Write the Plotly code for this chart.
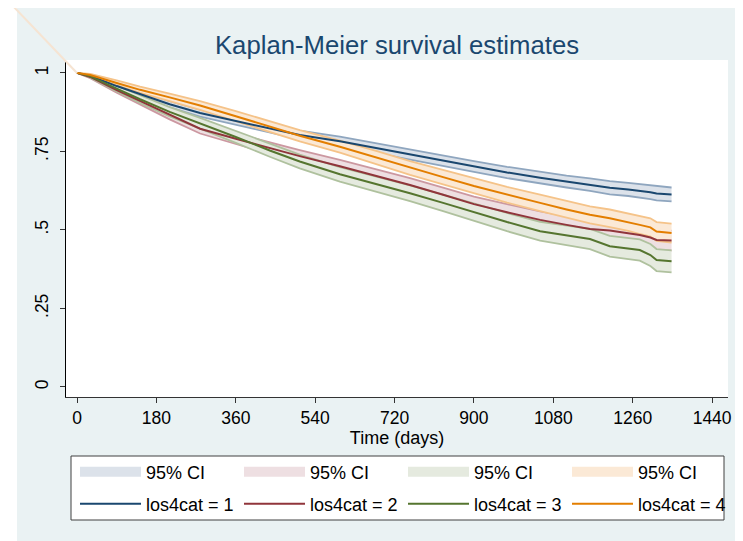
import plotly.graph_objects as go

# ---------------- data ----------------
time_days = [0, 30, 90, 143, 210, 279, 360, 437, 505, 596, 680, 755, 830, 900,
             975, 1050, 1110, 1163, 1208, 1250, 1276, 1300, 1314, 1348]

surv_1 = [1.000, 0.990, 0.958, 0.932, 0.900, 0.872, 0.847, 0.822, 0.802, 0.782, 0.760, 0.740,
          0.720, 0.702, 0.683, 0.666, 0.654, 0.644, 0.634, 0.629, 0.625, 0.620, 0.616, 0.613]
lo_1 = [1.000, 0.987, 0.952, 0.924, 0.890, 0.861, 0.835, 0.809, 0.788, 0.767, 0.745, 0.724,
        0.704, 0.685, 0.665, 0.647, 0.635, 0.624, 0.613, 0.608, 0.604, 0.598, 0.594, 0.591]
hi_1 = [1.000, 0.993, 0.964, 0.940, 0.910, 0.883, 0.859, 0.835, 0.816, 0.797, 0.775, 0.756,
        0.736, 0.719, 0.701, 0.685, 0.673, 0.664, 0.655, 0.650, 0.646, 0.642, 0.638, 0.635]

surv_2 = [1.000, 0.987, 0.945, 0.910, 0.865, 0.822, 0.790, 0.760, 0.735, 0.703, 0.672, 0.643,
          0.612, 0.582, 0.556, 0.532, 0.516, 0.503, 0.498, 0.490, 0.484, 0.476, 0.468, 0.466]
lo_2 = [1.000, 0.983, 0.937, 0.899, 0.852, 0.807, 0.773, 0.742, 0.716, 0.683, 0.651, 0.621,
        0.589, 0.558, 0.530, 0.505, 0.488, 0.474, 0.468, 0.460, 0.453, 0.445, 0.436, 0.434]
hi_2 = [1.000, 0.991, 0.953, 0.921, 0.878, 0.837, 0.807, 0.778, 0.754, 0.723, 0.693, 0.665,
        0.635, 0.606, 0.582, 0.559, 0.544, 0.532, 0.528, 0.520, 0.515, 0.507, 0.500, 0.498]

surv_3 = [1.000, 0.989, 0.950, 0.916, 0.876, 0.840, 0.796, 0.753, 0.718, 0.677, 0.646, 0.617,
          0.586, 0.556, 0.525, 0.496, 0.482, 0.471, 0.448, 0.440, 0.436, 0.420, 0.404, 0.400]
lo_3 = [1.000, 0.985, 0.941, 0.904, 0.861, 0.823, 0.777, 0.733, 0.696, 0.654, 0.622, 0.592,
        0.560, 0.529, 0.496, 0.466, 0.451, 0.439, 0.415, 0.406, 0.402, 0.385, 0.369, 0.365]
hi_3 = [1.000, 0.993, 0.959, 0.928, 0.891, 0.857, 0.815, 0.773, 0.740, 0.700, 0.670, 0.642,
        0.612, 0.583, 0.554, 0.526, 0.513, 0.503, 0.481, 0.474, 0.470, 0.455, 0.439, 0.435]

surv_4 = [1.000, 0.993, 0.968, 0.946, 0.922, 0.896, 0.862, 0.828, 0.800, 0.765, 0.730, 0.697,
          0.668, 0.640, 0.612, 0.586, 0.565, 0.548, 0.537, 0.525, 0.516, 0.508, 0.495, 0.490]
lo_4 = [1.000, 0.989, 0.960, 0.936, 0.910, 0.882, 0.846, 0.811, 0.782, 0.746, 0.709, 0.675,
        0.645, 0.616, 0.587, 0.560, 0.538, 0.521, 0.509, 0.497, 0.487, 0.479, 0.465, 0.460]
hi_4 = [1.000, 0.997, 0.976, 0.956, 0.934, 0.910, 0.878, 0.845, 0.818, 0.784, 0.751, 0.719,
        0.691, 0.664, 0.637, 0.612, 0.592, 0.575, 0.565, 0.553, 0.545, 0.537, 0.525, 0.520]

group_names = ["los4cat = 1", "los4cat = 2", "los4cat = 3", "los4cat = 4"]
ci_name = "95% CI"
x_ticks = [0, 180, 360, 540, 720, 900, 1080, 1260, 1440]
y_ticks = [0, 0.25, 0.5, 0.75, 1]
y_tick_text = ["0", ".25", ".5", ".75", "1"]
grid_ticks = [0.25, 0.5, 0.75, 1]

# ---------------- styles ----------------
line_colors = ["#1a476f", "#90353b", "#55752f", "#e37e00"]
fill_colors = ["#dce2ea", "#eedfe2", "#e5eadf", "#fbe9d6"]
edge_colors = ["#8fa6bf", "#cc98a1", "#afc19e", "#f5c389"]
FONT = "Liberation Sans, Arial, sans-serif"
BG = "#eaf2f3"

W, H = 743, 541
ML, MR, MT, MB = 58, 23, 52, 152
PW, PH = W - ML - MR, H - MT - MB


def px_x(p):  # figure pixel -> paper x
    return (p - ML) / PW


def px_y(p):  # figure pixel -> paper y
    return (H - MB - p) / PH


survs = [surv_1, surv_2, surv_3, surv_4]
los = [lo_1, lo_2, lo_3, lo_4]
his = [hi_1, hi_2, hi_3, hi_4]

fig = go.Figure()

# confidence bands first
for g in range(4):
    fig.add_trace(go.Scatter(
        x=time_days + time_days[::-1], y=his[g] + los[g][::-1],
        fill="toself", fillcolor=fill_colors[g], mode="lines",
        line=dict(width=0, color=fill_colors[g]),
        legendgroup=f"ci{g}", showlegend=False, hoverinfo="skip"))
    for bound in (his[g], los[g]):
        fig.add_trace(go.Scatter(
            x=time_days, y=bound, mode="lines",
            line=dict(color=edge_colors[g], width=1.8),
            legendgroup=f"ci{g}", showlegend=False, hoverinfo="skip"))
    # legend swatch for the band (no data points)
    fig.add_trace(go.Scatter(
        x=[None], y=[None], mode="lines",
        line=dict(color=fill_colors[g], width=20),
        name=ci_name, legendgroup=f"ci{g}", legend="legend", hoverinfo="skip"))

# survival curves on top
for g in range(4):
    fig.add_trace(go.Scatter(
        x=time_days, y=survs[g], mode="lines",
        line=dict(color=line_colors[g], width=2),
        name=group_names[g], legend="legend2"))

legend_common = dict(orientation="h", xref="container", yref="container",
                     xanchor="left", yanchor="middle", bgcolor="rgba(0,0,0,0)",
                     borderwidth=0, font=dict(size=18), entrywidth=88, itemwidth=61,
                     traceorder="normal")

fig.update_layout(
    width=W, height=H,
    margin=dict(l=ML, r=MR, t=MT, b=MB, autoexpand=False),
    paper_bgcolor=BG, plot_bgcolor="white",
    font=dict(family=FONT, color="black", size=17),
    title=dict(text="Kaplan-Meier survival estimates", x=0.5, xref="paper", xanchor="center",
               y=1 - 37 / H, yref="container", yanchor="middle",
               font=dict(family=FONT, size=25.7, color="#1a476f")),
    xaxis=dict(range=[-25, 1476], tickvals=x_ticks, ticks="outside", ticklen=5,
               tickcolor="#333333", showline=True, linecolor="#333333", linewidth=1,
               showgrid=False, zeroline=False, tickfont=dict(size=17.5), automargin=False,
               title=dict(text="Time (days)", font=dict(size=18), standoff=2)),
    yaxis=dict(range=[-0.032, 1.041], tickvals=y_ticks, ticktext=y_tick_text,
               tickangle=-90, ticks="outside", ticklen=5, tickcolor="#333333",
               showline=True, linecolor="black", linewidth=1, showgrid=False,
               zeroline=False, tickfont=dict(size=17.5), ticklabelstandoff=5,
               automargin=False),
    yaxis2=dict(overlaying="y", matches="y", anchor="x", tickvals=grid_ticks,
                showgrid=True, gridcolor=BG, gridwidth=1.5, showticklabels=False,
                ticks="", showline=False, zeroline=False, automargin=False),
    legend=dict(legend_common, x=67 / W, y=1 - 464 / H),
    legend2=dict(legend_common, x=67 / W, y=1 - 496 / H),
    shapes=[
        # legend frame
        dict(type="rect", xref="paper", yref="paper", layer="above",
             x0=px_x(63), x1=px_x(716), y0=px_y(512), y1=px_y(448),
             fillcolor="white", line=dict(color="#404040", width=1)),
        # white page strip on the left edge
        dict(type="rect", xref="paper", yref="paper", layer="above",
             x0=px_x(-2), x1=px_x(9), y0=px_y(H + 2), y1=px_y(-2),
             fillcolor="white", line=dict(width=0)),
        # faint diagonal stroke seen in the top-left corner of the reference
        dict(type="line", xref="paper", yref="paper", layer="above",
             x0=px_x(4), y0=px_y(-3), x1=px_x(69), y1=px_y(65),
             line=dict(color="#f6e4d2", width=2)),
    ],
    showlegend=True,
)

fig.write_html("out.html")
